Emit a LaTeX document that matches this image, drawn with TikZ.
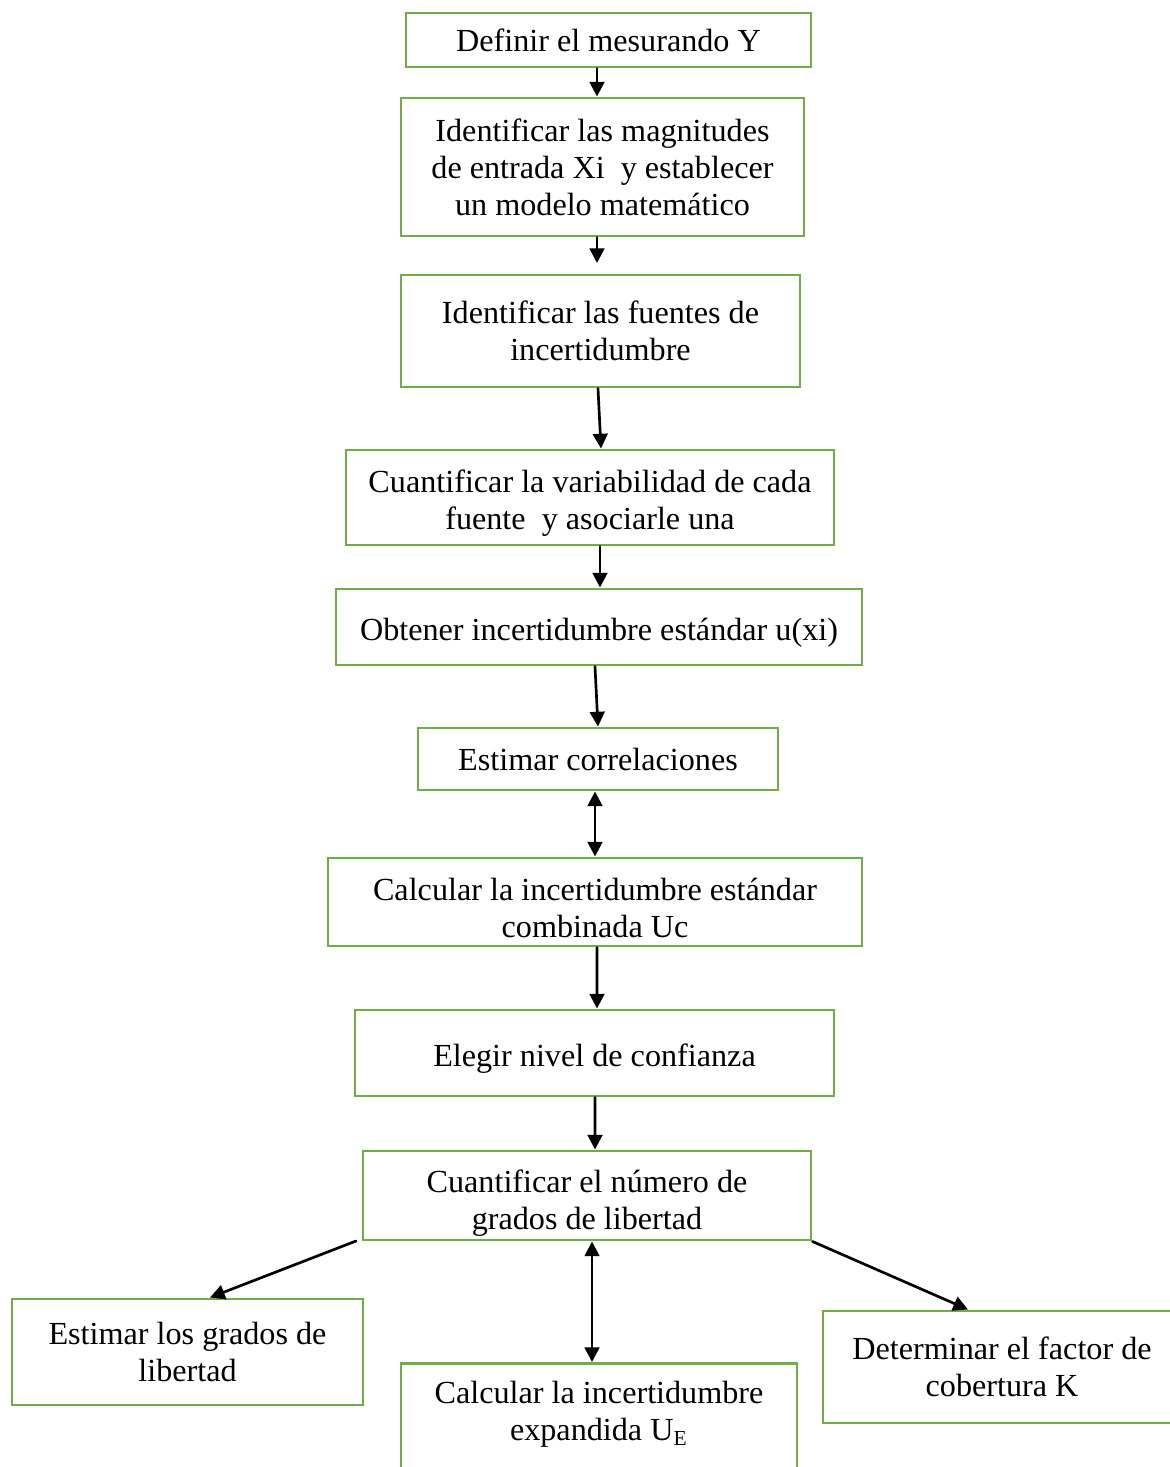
\documentclass[tikz,border=0pt]{standalone}
\usepackage{fontspec}
\setmainfont{Liberation Serif}
\usetikzlibrary{arrows.meta}
\definecolor{verde}{RGB}{112,173,71}
\newcommand{\px}{0.373pt}
\newcommand{\bajo}[1]{\rule{0pt}{#1}}
\tikzset{paso/.style={draw=verde, line width=1.1pt, line join=miter, align=center, inner sep=0pt, font=\fontsize{12}{13.8}\selectfont},
flecha/.style={->, line width=1pt}}

\begin{document}
\begin{tikzpicture}[line cap=round,line join=round,>={Triangle[length=5.5pt,width=5.5pt]},x=0.373pt,y=-0.373pt]
\useasboundingbox (0,0) rectangle (1170,1467);
\node [paso, minimum width=405*\px, minimum height=54*\px] (definir) at (608.5,40) {Definir el mesurando Y};
\node [paso, minimum width=403*\px, minimum height=138*\px] (magnitudes) at (602.5,167) {Identificar las magnitudes\\de entrada Xi\ \ y establecer\\un modelo matemático};
\node [paso, minimum width=399*\px, minimum height=112*\px] (fuentes) at (600.5,331) {Identificar las fuentes de\\incertidumbre};
\node [paso, minimum width=488*\px, minimum height=95*\px] (variabilidad) at (590,497.5) {\bajo{12.7pt}Cuantificar la variabilidad de cada\\fuente\ \ y asociarle una};
\node [paso, minimum width=526*\px, minimum height=76*\px] (estandar) at (599,627) {\bajo{12.7pt}Obtener incertidumbre estándar u(xi)};
\node [paso, minimum width=360*\px, minimum height=62*\px] (correlaciones) at (598,759) {Estimar correlaciones};
\node [paso, minimum width=534*\px, minimum height=88*\px] (combinada) at (595,902) {\bajo{12.7pt}Calcular la incertidumbre estándar\\combinada Uc};
\node [paso, minimum width=479*\px, minimum height=86*\px] (confianza) at (594.5,1053) {\bajo{12.7pt}Elegir nivel de confianza};
\node [paso, minimum width=448*\px, minimum height=89*\px] (grados) at (587,1195.5) {\bajo{14.2pt}Cuantificar el número de\\grados de libertad};
\node [paso, minimum width=351*\px, minimum height=106*\px] (estimar) at (187.5,1352) {Estimar los grados de\\libertad};
\node [paso, minimum width=396*\px, inner ysep=18*\px, anchor=north] (expandida) at (599,1362) {Calcular la incertidumbre\\expandida U\textsubscript{E}\\[20pt]\mbox{}};
\node [paso, minimum width=358*\px, minimum height=112*\px] (factor) at (1002,1367) {Determinar el factor de\\cobertura K};
\coordinate (puntaB) at (597,263);
\coordinate (salidaI) at (356,1241);
\draw [flecha] ([shift={(-11.5,0)}]definir.south) -- ([shift={(-5.5,0)}]magnitudes.north);
\draw [flecha] ([shift={(-5.5,0)}]magnitudes.south) -- (puntaB);
\draw [flecha] ([shift={(-2.5,0)}]fuentes.south) -- ([shift={(11,0)}]variabilidad.north);
\draw [flecha] ([shift={(10,0)}]variabilidad.south) -- ([shift={(1,0)}]estandar.north);
\draw [flecha] ([shift={(-4,0)}]estandar.south) -- (correlaciones.north);
\draw [flecha, <->] ([shift={(-3,0)}]correlaciones.south) -- (combinada.north);
\draw [flecha] ([shift={(2,0)}]combinada.south) -- ([shift={(2.5,0)}]confianza.north);
\draw [flecha] ([shift={(0.5,0)}]confianza.south) -- ([shift={(8,0)}]grados.north);
\draw [flecha] (salidaI) -- ([shift={(22.5,0)}]estimar.north);
\draw [flecha, <->] ([shift={(5,0)}]grados.south) -- ([shift={(-7,0)}]expandida.north);
\draw [flecha] (grados.south east) -- ([shift={(-34,0)}]factor.north);
\end{tikzpicture}
\end{document}
